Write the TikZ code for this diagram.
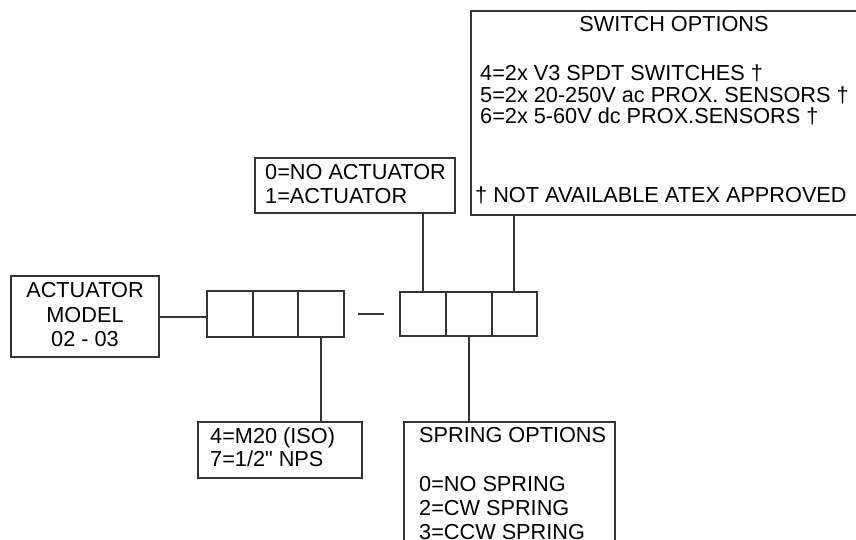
\documentclass[tikz,border=0pt]{standalone}
\usepackage{fontspec}
\setmainfont{Liberation Sans}
\definecolor{ln}{HTML}{333333}
\begin{document}
\begin{tikzpicture}[x=1pt,y=-1pt,
  box/.style={draw=ln,line width=1.6pt,fill=white,inner sep=0pt,outer sep=0pt,anchor=north west},
  cell/.style={draw=ln,line width=1.6pt,inner sep=0pt,outer sep=0pt,anchor=north west},
  conn/.style={draw=ln,line width=1.6pt},
  txt/.style={inner sep=0pt,anchor=base west,font=\fontsize{21.7}{24}\selectfont},
  ctxt/.style={inner sep=0pt,anchor=base,font=\fontsize{21.7}{24}\selectfont}]
\useasboundingbox (0,0) rectangle (856,540);
\clip (0,0) rectangle (856,540);
% boxes
\node[box,minimum width=148pt,minimum height=81pt] (model) at (11,276) {};
\node[box,minimum width=164pt,minimum height=56pt] (conn) at (198,422) {};
\node[box,minimum width=200pt,minimum height=55pt] (act) at (255,158) {};
\node[box,minimum width=211pt,minimum height=140pt] (spring) at (404,422) {};
\node[box,minimum width=420pt,minimum height=204pt] (switch) at (471,11) {};
% cells
\node[cell,minimum width=46pt,minimum height=46pt] (l1) at (207,291) {};
\node[cell,minimum width=45pt,minimum height=46pt] (l2) at (253,291) {};
\node[cell,minimum width=46pt,minimum height=46pt] (l3) at (298,291) {};
\node[cell,minimum width=46pt,minimum height=44pt] (r1) at (400,292) {};
\node[cell,minimum width=46pt,minimum height=44pt] (r2) at (446,292) {};
\node[cell,minimum width=45pt,minimum height=44pt] (r3) at (492,292) {};
% dash
\coordinate (d1) at (358,314);
\coordinate (d2) at (384,314);
\draw[conn] (d1) -- (d2);
% connectors
\coordinate (sw) at (514,292);
\draw[conn] (model.east |- 0,317) -- (l1.west |- 0,317);
\draw[conn] (l3.south) -- (l3.south |- conn.north);
\draw[conn] (r1.north) -- (r1.north |- act.south);
\draw[conn] (r2.south) -- (r2.south |- spring.north);
\draw[conn] (sw) -- (sw |- switch.south);
% texts
\node[ctxt] (m1) at (85,297) {ACTUATOR};
\node[ctxt] (m2) at (85,322) {MODEL};
\node[ctxt] (m3) at (85,346) {02 - 03};
\node[txt] (c1) at (210,443) {4=M20 (ISO)};
\node[txt] (c2) at (210,466) {7=1/2\textquotedbl{} NPS};
\node[txt] (a1) at (265,180) {0=NO ACTUATOR};
\node[txt] (a2) at (265,204) {1=ACTUATOR};
\node[txt] (s0) at (419,442) {SPRING OPTIONS};
\node[txt] (s1) at (419,491) {0=NO SPRING};
\node[txt] (s2) at (419,515) {2=CW SPRING};
\node[txt] (s3) at (419,539) {3=CCW SPRING};
\node[ctxt] (w0) at (674,32) {SWITCH OPTIONS};
\node[txt] (w1) at (480,81) {4=2x V3 SPDT SWITCHES †};
\node[txt] (w2) at (480,102.5) {5=2x 20-250V ac PROX. SENSORS †};
\node[txt] (w3) at (480,124) {6=2x 5-60V dc PROX.SENSORS †};
\node[txt] (w4) at (475,203) {† NOT AVAILABLE ATEX APPROVED};
\end{tikzpicture}
\end{document}
